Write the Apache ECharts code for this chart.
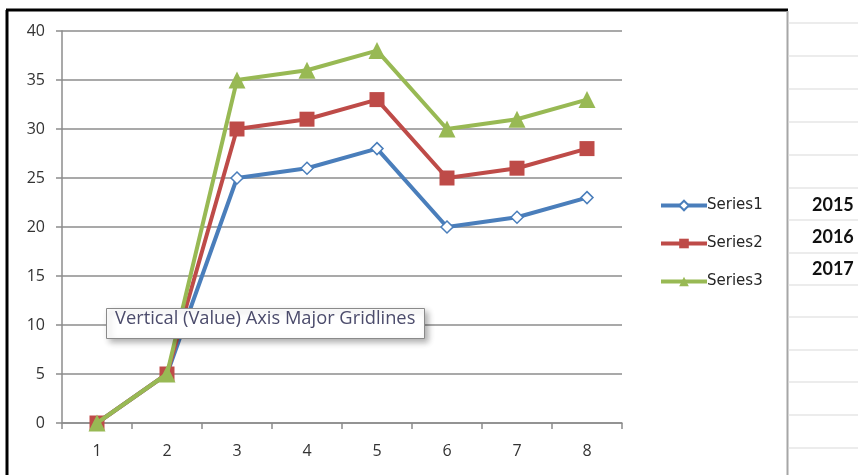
<!DOCTYPE html>
<html>
<head>
<meta charset="utf-8">
<script src="https://cdn.jsdelivr.net/npm/echarts@6/dist/echarts.min.js"></script>
<style>
  html, body { margin: 0; padding: 0; background: #ffffff; }
  #chart { width: 858px; height: 475px; }
</style>
</head>
<body>
<div id="chart"></div>
<script>
// Category labels along the horizontal axis
const categories = ['1', '2', '3', '4', '5', '6', '7', '8'];

// Series values
const series1 = [0, 5, 25, 26, 28, 20, 21, 23];
const series2 = [0, 5, 30, 31, 33, 25, 26, 28];
const series3 = [0, 5, 35, 36, 38, 30, 31, 33];

// Series names and neighbouring sheet cells
const seriesNames = ['Series1', 'Series2', 'Series3'];
const yearCells = ['2015', '2016', '2017'];
const hintText = 'Vertical (Value) Axis Major Gridlines';

const chart = echarts.init(document.getElementById('chart'), null, { renderer: 'canvas' });

const axisFont = { fontFamily: 'Open Sans', fontSize: 16, color: '#333333' };
const gridGray = '#8c8c8c';
const colors = ['#4a7ebb', '#be4b48', '#98b954'];

// Sheet row borders to the right of the chart frame
const rowLines = [23, 56, 89, 122, 155, 188, 220, 253, 285, 317, 350, 382, 415, 448];
const sheetGraphics = rowLines.map(y => ({
  type: 'line', silent: true,
  shape: { x1: 788, y1: y, x2: 858, y2: y },
  style: { stroke: '#d9d9d9', lineWidth: 1 }
}));

const yearGraphics = yearCells.map((t, i) => ({
  type: 'text', silent: true,
  left: 812, top: 196 + i * 32,
  style: { text: t, fontFamily: 'Lato', fontWeight: 'bold', fontSize: 18, fill: '#111111' }
}));

chart.setOption({
  animation: false,
  backgroundColor: '#ffffff',
  grid: { left: 62, right: 236, top: 31, bottom: 52, containLabel: false },
  xAxis: {
    type: 'category',
    data: categories,
    boundaryGap: true,
    axisLine: { lineStyle: { color: gridGray, width: 1.5 } },
    axisTick: { show: true, length: 6, lineStyle: { color: gridGray, width: 1.5 } },
    axisLabel: Object.assign({ margin: 20 }, axisFont),
    splitLine: { show: false }
  },
  yAxis: {
    type: 'value',
    min: 0, max: 40, interval: 5,
    axisLine: { show: true, lineStyle: { color: gridGray, width: 1.5 } },
    axisTick: { show: true, length: 6, lineStyle: { color: gridGray, width: 1.5 } },
    axisLabel: Object.assign({ margin: 17 }, axisFont),
    splitLine: { show: true, lineStyle: { color: gridGray, width: 1.5 } }
  },
  legend: {
    orient: 'vertical',
    left: 654, top: 193,
    itemWidth: 46, itemHeight: 12,
    itemGap: 23,
    textStyle: { fontFamily: 'DejaVu Sans', fontSize: 15, color: '#262626', padding: [0, 0, 0, -5] },
    data: seriesNames.map((n, i) => ({ name: n, lineStyle: { width: 4, color: colors[i] } }))
  },
  series: [
    {
      name: seriesNames[0], type: 'line', data: series1,
      symbol: 'diamond', symbolSize: 12,
      lineStyle: { color: colors[0], width: 4 },
      itemStyle: { color: '#ffffff', borderColor: colors[0], borderWidth: 1.5 },
      z: 2
    },
    {
      name: seriesNames[1], type: 'line', data: series2,
      symbol: 'rect', symbolSize: 15,
      lineStyle: { color: colors[1], width: 4 },
      itemStyle: { color: colors[1] },
      z: 3
    },
    {
      name: seriesNames[2], type: 'line', data: series3,
      symbol: 'triangle', symbolSize: 17,
      lineStyle: { color: colors[2], width: 4 },
      itemStyle: { color: colors[2] },
      z: 4
    }
  ],
  graphic: [
    // chart frame edges
    { type: 'line', silent: true, shape: { x1: 7, y1: 10, x2: 7, y2: 475 }, style: { stroke: '#000000', lineWidth: 3 } },
    { type: 'line', silent: true, shape: { x1: 6, y1: 10, x2: 788, y2: 10 }, style: { stroke: '#000000', lineWidth: 3 } },
    { type: 'line', silent: true, shape: { x1: 787.5, y1: 11, x2: 787.5, y2: 475 }, style: { stroke: '#a6a6a6', lineWidth: 2 } },
    ...sheetGraphics,
    ...yearGraphics,
    // hover hint box
    {
      type: 'rect', silent: true, z: 100,
      shape: { x: 106.5, y: 308.5, width: 318, height: 30 },
      style: { fill: '#ffffff', stroke: '#8a8a8a', lineWidth: 1, shadowBlur: 6, shadowOffsetX: 3, shadowOffsetY: 3, shadowColor: 'rgba(0,0,0,0.3)' }
    },
    {
      type: 'text', silent: true, z: 101,
      left: 115, top: 310,
      style: { text: hintText, fontFamily: 'Open Sans', fontSize: 18.3, fill: '#4b4b6b' }
    }
  ]
});
</script>
</body>
</html>
